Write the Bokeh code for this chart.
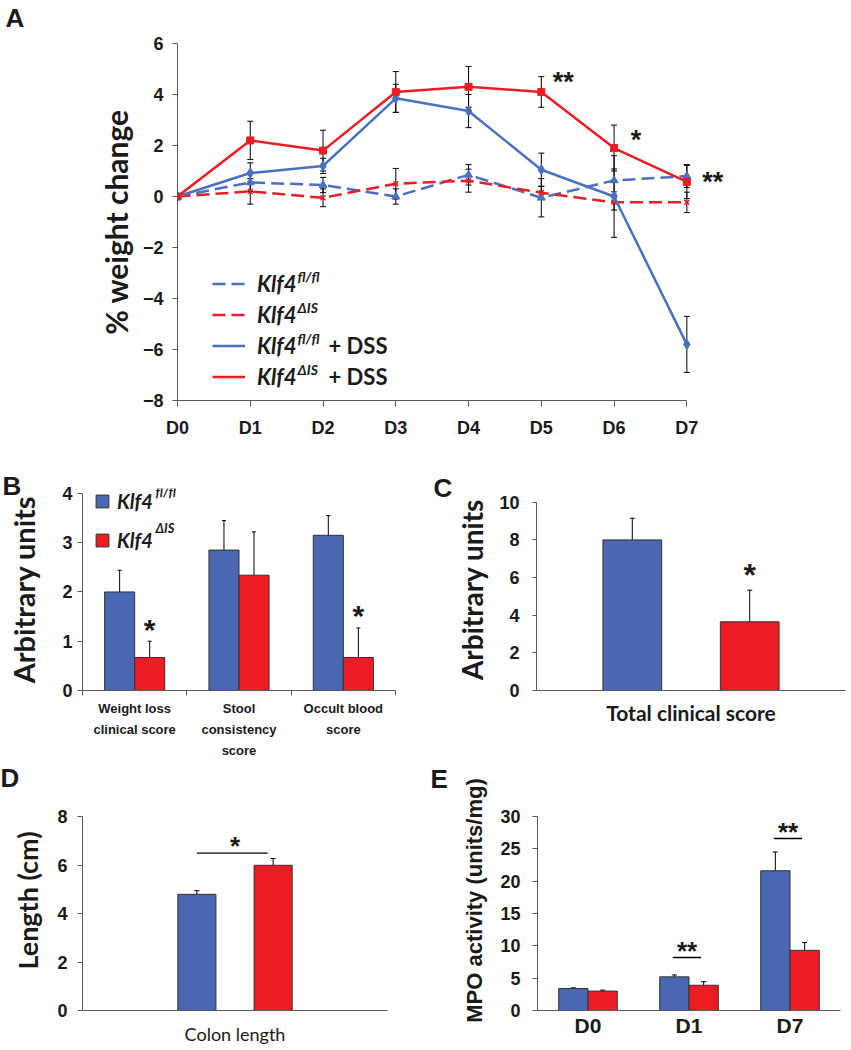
from bokeh.plotting import figure
from bokeh.models import (Range1d, FixedTicker, Whisker, TeeHead, Label, Legend,
                          LegendItem, ColumnDataSource, FactorRange, Title)
from bokeh.layouts import column, row
from bokeh.embed import file_html
from bokeh.resources import INLINE
from bokeh.transform import dodge

# ---------------- Panel A data: % weight change ----------------
days = ["D0", "D1", "D2", "D3", "D4", "D5", "D6", "D7"]
wt_mean = [0.0, 0.55, 0.45, 0.0, 0.85, -0.05, 0.63, 0.80]
wt_err = [0.0, 0.35, 0.30, 0.30, 0.40, 0.75, 0.45, 0.45]
ko_mean = [0.0, 0.20, -0.05, 0.50, 0.62, 0.15, -0.23, -0.23]
ko_err = [0.0, 0.50, 0.35, 0.60, 0.45, 0.25, 0.30, 0.40]
wt_dss_mean = [0.0, 0.92, 1.20, 3.85, 3.35, 1.05, 0.0, -5.80]
wt_dss_err = [0.0, 0.40, 0.30, 0.55, 0.65, 0.65, 1.60, 1.10]
ko_dss_mean = [0.0, 2.20, 1.80, 4.10, 4.30, 4.10, 1.90, 0.57]
ko_dss_err = [0.0, 0.75, 0.80, 0.80, 0.80, 0.60, 0.90, 0.65]
sig_A = ["", "", "", "", "", "**", "*", "**"]
yA_ticks = [-8, -6, -4, -2, 0, 2, 4, 6]
legend_A_sup = ["fl/fl", "\u0394IS", "fl/fl", "\u0394IS"]
legend_A_suffix = ["", "", "+ DSS", "+ DSS"]

# ---------------- Panel B data ----------------
b_cats = ["Weight loss\nclinical score", "Stool\nconsistency\nscore", "Occult blood\nscore"]
b_wt = [2.00, 2.85, 3.15]
b_wt_err = [0.44, 0.60, 0.40]
b_ko = [0.67, 2.34, 0.67]
b_ko_err = [0.33, 0.88, 0.60]
b_sig = ["*", "", "*"]
legend_B_sup = ["fl/fl", "\u0394IS"]

# ---------------- Panel C data ----------------
c_cat = ["Total clinical score"]
c_wt = [8.0]
c_wt_err = [1.15]
c_ko = [3.65]
c_ko_err = [1.68]
c_sig = ["*"]

# ---------------- Panel D data ----------------
d_cat = ["Colon length"]
d_wt = [4.80]
d_wt_err = [0.15]
d_ko = [6.00]
d_ko_err = [0.28]
d_sig = ["*"]
d_sig_level = [6.5]

# ---------------- Panel E data ----------------
e_days = ["D0", "D1", "D7"]
e_wt = [3.4, 5.2, 21.6]
e_wt_err = [0.10, 0.30, 2.90]
e_ko = [3.0, 3.9, 9.3]
e_ko_err = [0.15, 0.55, 1.20]
e_sig = ["", "**", "**"]
e_sig_level = [None, 8.2, 26.6]

BLUE_LINE = "#4a70c0"
RED_LINE = "#ec1c24"
BLUE_BAR = "#4a67b1"
RED_BAR = "#ed1c24"
AXIS = "#595959"
TXT = "#1a1a1a"
TICKF = "Liberation Sans"
CAL = "Lato"


def base_fig(w, h, xr, yr, l, r, t, b):
    p = figure(width=w, height=h, x_range=xr, y_range=yr, output_backend="svg",
               toolbar_location=None, min_border_left=l, min_border_right=r,
               min_border_top=t, min_border_bottom=b)
    p.xgrid.visible = False
    p.ygrid.visible = False
    p.outline_line_color = None
    for ax in p.axis:
        ax.axis_line_color = AXIS
        ax.major_tick_line_color = AXIS
        ax.minor_tick_line_color = None
        ax.major_tick_in = 0
        ax.major_tick_out = 5
        ax.major_label_text_font = TICKF
        ax.major_label_text_font_style = "bold"
        ax.major_label_text_color = TXT
        ax.major_label_text_font_size = "18px"
        ax.axis_label_text_color = TXT
        ax.axis_label_text_font = CAL
        ax.axis_label_text_font_style = "bold"
    return p


def panel_letter(p, letter, offset, standoff, spacer=None):
    if spacer is not None:
        p.add_layout(Title(text=" ", text_font_size="1px", standoff=spacer), "above")
    p.add_layout(Title(text=letter, align="left", offset=offset, standoff=standoff,
                       text_font=TICKF, text_font_style="bold", text_font_size="26px",
                       text_color=TXT, vertical_align="bottom"), "above")


def lbl(p, x, y, text, size, font=CAL, style="bold", align="left", baseline="middle",
        units="screen", xo=0, yo=0):
    p.add_layout(Label(x=x, y=y, x_units=units, y_units=units, text=text, text_font=font,
                       text_font_style=style, text_font_size=f"{size}px", text_align=align,
                       text_baseline=baseline, x_offset=xo, y_offset=yo, text_color=TXT))


def star(p, x, y, text, size, up, xo=0):
    lbl(p, x, y, text, size, font=TICKF, style="bold", align="center",
        baseline="alphabetic", units="data", xo=xo, yo=up - 4)


def whisk(p, src, base, up, lo, head=6):
    p.add_layout(Whisker(source=src, base=base, upper=up, lower=lo, line_color="black",
                         line_width=1,
                         upper_head=TeeHead(size=head, line_color="black", line_width=1),
                         lower_head=TeeHead(size=head, line_color="black", line_width=1)))


# ======================= Panel A =======================
pA = base_fig(851, 455, Range1d(0, 7.6), Range1d(-8, 6), 177, 121, 40, 55)
xA = list(range(len(days)))
series = [
    (wt_mean, wt_err, BLUE_LINE, "13 6", "triangle", 8),
    (ko_mean, ko_err, RED_LINE, "13 6", "x", 7),
    (wt_dss_mean, wt_dss_err, BLUE_LINE, "solid", "diamond", 10),
    (ko_dss_mean, ko_dss_err, RED_LINE, "solid", "square", 7),
]
line_rs = []
for m, e, col, dash, mk, sz in series:
    r = pA.line(xA, m, line_color=col, line_width=2.5, line_dash=dash)
    line_rs.append(r)
    if mk == "x":
        pA.scatter(xA, m, marker=mk, size=sz, line_color=col, line_width=1.5)
    else:
        pA.scatter(xA, m, marker=mk, size=sz, color=col)
for m, e, col, dash, mk, sz in series:
    keep = [i for i in xA if e[i] > 0]
    src = ColumnDataSource(dict(x=keep, up=[m[i] + e[i] for i in keep],
                                lo=[m[i] - e[i] for i in keep]))
    whisk(pA, src, "x", "up", "lo", head=6)

pA.xaxis.ticker = FixedTicker(ticks=xA)
pA.xaxis.major_label_overrides = {i: d for i, d in enumerate(days)}
pA.xaxis.bounds = (0, len(days) - 1)
pA.xaxis.major_tick_out = 6
pA.xaxis.major_label_standoff = 11
pA.yaxis.ticker = FixedTicker(ticks=yA_ticks)
pA.yaxis.major_label_standoff = 9
pA.yaxis.axis_label = "% weight change"
pA.yaxis.axis_label_text_font_size = "30px"
pA.yaxis.axis_label_standoff = 6

legA = Legend(items=[LegendItem(label="Klf4", renderers=[r]) for r in line_rs],
              location=(35, 10.5), orientation="vertical", padding=0, margin=0,
              border_line_color=None, background_fill_alpha=0,
              glyph_width=33, glyph_height=27, label_height=27, label_standoff=12, spacing=4,
              label_text_font=CAL, label_text_font_style="bold italic",
              label_text_font_size="22px", label_text_color=TXT)
pA.add_layout(legA)
for i, (sup, suf) in enumerate(zip(legend_A_sup, legend_A_suffix)):
    yc = 10.5 + (len(legend_A_sup) - 1 - i) * 31 + 13.5
    lbl(pA, 120, yc + 7, sup, 14, style="bold italic")
    if suf:
        lbl(pA, 151, yc, suf, 22, style="bold")

star_off = {5: (22, 14), 6: (22, 12), 7: (26, 4)}
for i, s in enumerate(sig_A):
    if s:
        dx, up = star_off[i]
        star(pA, xA[i], ko_dss_mean[i], s, 27, up, xo=dx)
panel_letter(pA, "A", -172, 0, spacer=8)

# ======================= Panel B =======================
pB = base_fig(420, 305, Range1d(0, 3), Range1d(0, 4.1), 82, 25, 33, 65)
xB = [i + 0.5 for i in range(len(b_cats))]
srcB = ColumnDataSource(dict(x=xB, wt=b_wt, ko=b_ko,
                             wt_up=[a + b for a, b in zip(b_wt, b_wt_err)],
                             wt_lo=[a - b for a, b in zip(b_wt, b_wt_err)],
                             ko_up=[a + b for a, b in zip(b_ko, b_ko_err)],
                             ko_lo=[a - b for a, b in zip(b_ko, b_ko_err)]))
rb1 = pB.vbar(x=dodge("x", -0.144), top="wt", width=0.288, source=srcB,
              fill_color=BLUE_BAR, line_color="#333333", line_width=1)
rb2 = pB.vbar(x=dodge("x", 0.144), top="ko", width=0.288, source=srcB,
              fill_color=RED_BAR, line_color="#333333", line_width=1)
whisk(pB, srcB, dodge("x", -0.144), "wt_up", "wt_lo", head=4)
whisk(pB, srcB, dodge("x", 0.144), "ko_up", "ko_lo", head=4)
pB.xaxis.ticker = FixedTicker(ticks=xB, minor_ticks=list(range(len(b_cats) + 1)))
pB.xaxis.major_label_overrides = {x: c for x, c in zip(xB, b_cats)}
pB.xaxis.major_tick_line_color = None
pB.xaxis.minor_tick_line_color = AXIS
pB.xaxis.minor_tick_out = 5
pB.xaxis.minor_tick_in = 0
pB.xaxis.major_label_text_font_size = "13px"
pB.xaxis.major_label_text_line_height = 1.4
pB.xaxis.major_label_standoff = 5
pB.yaxis.ticker = FixedTicker(ticks=[0, 1, 2, 3, 4])
pB.yaxis.bounds = (0, 4)
pB.yaxis.major_label_standoff = 5
pB.yaxis.axis_label = "Arbitrary units"
pB.yaxis.axis_label_text_font_size = "29px"
pB.yaxis.axis_label_standoff = 18
legB = Legend(items=[LegendItem(label="Klf4", renderers=[rb1]),
                     LegendItem(label="Klf4", renderers=[rb2])],
              location=(12, 138), orientation="vertical", padding=0, margin=0,
              border_line_color=None, background_fill_alpha=0,
              glyph_width=16, glyph_height=16, label_height=24, label_standoff=7, spacing=15,
              label_text_font=CAL, label_text_font_style="bold italic",
              label_text_font_size="20px", label_text_color=TXT)
pB.add_layout(legB)
for i, sup in enumerate(legend_B_sup):
    yc = 158 + (len(legend_B_sup) - 1 - i) * 36
    lbl(pB, 73, yc + 5, sup, 13, style="bold italic")
for i, s in enumerate(b_sig):
    if s:
        star(pB, xB[i] + 0.144, b_ko[i] + b_ko_err[i], s, 30, 16)
panel_letter(pB, "B", -80, -25)

# ======================= Panel C =======================
pC = base_fig(431, 305, Range1d(0, 1), Range1d(0, 10.73), 116, 6, 33, 65)
srcC = ColumnDataSource(dict(x=[0.5], wt=c_wt, ko=c_ko,
                             wt_up=[c_wt[0] + c_wt_err[0]], wt_lo=[c_wt[0] - c_wt_err[0]],
                             ko_up=[c_ko[0] + c_ko_err[0]], ko_lo=[c_ko[0] - c_ko_err[0]]))
pC.vbar(x=dodge("x", -0.19), top="wt", width=0.19, source=srcC,
        fill_color=BLUE_BAR, line_color="#333333", line_width=1)
pC.vbar(x=dodge("x", 0.19), top="ko", width=0.19, source=srcC,
        fill_color=RED_BAR, line_color="#333333", line_width=1)
whisk(pC, srcC, dodge("x", -0.19), "wt_up", "wt_lo", head=5)
whisk(pC, srcC, dodge("x", 0.19), "ko_up", "ko_lo", head=5)
pC.xaxis.ticker = FixedTicker(ticks=[0.5])
pC.xaxis.major_label_overrides = {0.5: c_cat[0]}
pC.xaxis.major_tick_line_color = None
pC.xaxis.major_tick_out = 0
pC.xaxis.major_label_standoff = 9
pC.xaxis.major_label_text_font = CAL
pC.xaxis.major_label_text_font_size = "21px"
pC.yaxis.ticker = FixedTicker(ticks=[0, 2, 4, 6, 8, 10])
pC.yaxis.bounds = (0, 10)
pC.yaxis.major_label_standoff = 13
pC.yaxis.major_tick_out = 4
pC.yaxis.axis_label = "Arbitrary units"
pC.yaxis.axis_label_text_font_size = "28px"
pC.yaxis.axis_label_standoff = 7
star(pC, 0.5 + 0.19, c_ko[0] + c_ko_err[0], c_sig[0], 32, 19)
panel_letter(pC, "C", -103, -29)

# ======================= Panel D =======================
pD = base_fig(420, 288, Range1d(0, 1), Range1d(0, 9.09), 82, 33, 30, 38)
srcD = ColumnDataSource(dict(x=[0.5], wt=d_wt, ko=d_ko,
                             wt_up=[d_wt[0] + d_wt_err[0]], wt_lo=[d_wt[0] - d_wt_err[0]],
                             ko_up=[d_ko[0] + d_ko_err[0]], ko_lo=[d_ko[0] - d_ko_err[0]],
                             lvl=d_sig_level))
pD.vbar(x=dodge("x", -0.125), top="wt", width=0.125, source=srcD,
        fill_color=BLUE_BAR, line_color="#333333", line_width=1)
pD.vbar(x=dodge("x", 0.125), top="ko", width=0.125, source=srcD,
        fill_color=RED_BAR, line_color="#333333", line_width=1)
whisk(pD, srcD, dodge("x", -0.125), "wt_up", "wt_lo", head=5)
whisk(pD, srcD, dodge("x", 0.125), "ko_up", "ko_lo", head=5)
pD.segment(x0=dodge("x", -0.125), x1=dodge("x", 0.107), y0="lvl", y1="lvl", source=srcD,
           line_color="black", line_width=1.2)
star(pD, 0.5, d_sig_level[0], d_sig[0], 26, 11)
pD.xaxis.ticker = FixedTicker(ticks=[0.5])
pD.xaxis.major_label_overrides = {0.5: d_cat[0]}
pD.xaxis.major_tick_line_color = None
pD.xaxis.major_tick_out = 0
pD.xaxis.major_label_standoff = 12
pD.xaxis.major_label_text_font = CAL
pD.xaxis.major_label_text_font_style = "normal"
pD.xaxis.major_label_text_font_size = "18px"
pD.yaxis.ticker = FixedTicker(ticks=[0, 2, 4, 6, 8])
pD.yaxis.bounds = (0, 8)
pD.yaxis.major_label_standoff = 10
pD.yaxis.axis_label = "Length (cm)"
pD.yaxis.axis_label_text_font_size = "27px"
pD.yaxis.axis_label_standoff = 10
panel_letter(pD, "D", -82, -5)

# ======================= Panel E =======================
pE = base_fig(431, 288, FactorRange(factors=e_days, range_padding=0), Range1d(0, 34.0),
              117, 11, 30, 38)
srcE = ColumnDataSource(dict(day=e_days, wt=e_wt, ko=e_ko,
                             wt_up=[a + b for a, b in zip(e_wt, e_wt_err)],
                             wt_lo=[a - b for a, b in zip(e_wt, e_wt_err)],
                             ko_up=[a + b for a, b in zip(e_ko, e_ko_err)],
                             ko_lo=[a - b for a, b in zip(e_ko, e_ko_err)]))
pE.vbar(x=dodge("day", -0.145, range=pE.x_range), top="wt", width=0.29, source=srcE,
        fill_color=BLUE_BAR, line_color="#333333", line_width=1)
pE.vbar(x=dodge("day", 0.145, range=pE.x_range), top="ko", width=0.29, source=srcE,
        fill_color=RED_BAR, line_color="#333333", line_width=1)
whisk(pE, srcE, dodge("day", -0.145, range=pE.x_range), "wt_up", "wt_lo", head=5)
whisk(pE, srcE, dodge("day", 0.145, range=pE.x_range), "ko_up", "ko_lo", head=5)
sig_days = [d for d, s in zip(e_days, e_sig) if s]
sig_lvls = [l for l, s in zip(e_sig_level, e_sig) if s]
srcEs = ColumnDataSource(dict(day=sig_days, lvl=sig_lvls))
pE.segment(x0=dodge("day", -0.16, range=pE.x_range), x1=dodge("day", 0.12, range=pE.x_range),
           y0="lvl", y1="lvl", source=srcEs, line_color="black", line_width=1.5)
for i, (s, l) in enumerate(zip(e_sig, e_sig_level)):
    if s:
        # synthetic categorical coordinate of the factor centre
        star(pE, i + 0.5, l, s, 26, 10, xo=-2)
pE.xaxis.major_tick_line_color = None
pE.xaxis.major_tick_out = 0
pE.xaxis.major_label_standoff = 3
pE.xaxis.major_label_text_font_size = "21px"
pE.yaxis.ticker = FixedTicker(ticks=[0, 5, 10, 15, 20, 25, 30])
pE.yaxis.bounds = (0, 30)
pE.yaxis.major_label_standoff = 12
pE.yaxis.axis_label = "MPO activity (units/mg)"
pE.yaxis.axis_label_text_font = TICKF
pE.yaxis.axis_label_text_font_size = "22px"
pE.yaxis.axis_label_standoff = 10
panel_letter(pE, "E", -107, -7)

layout = column(pA, row(pB, pC), row(pD, pE))
open("out.html", "w").write(file_html(layout, INLINE))
